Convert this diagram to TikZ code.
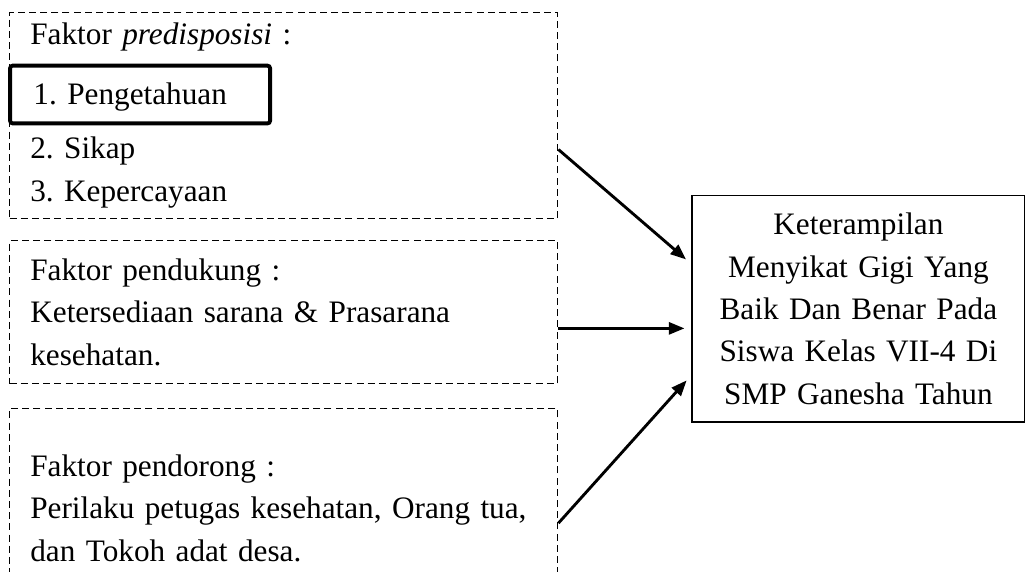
\documentclass[tikz,border=0pt]{standalone}
\usepackage{fontspec}
\setmainfont{Liberation Serif}
\frenchspacing
\usetikzlibrary{arrows.meta, positioning, calc}
\tikzset{
    faktor/.style={rectangle, draw=black, line width=0.5pt, dash pattern=on 2.7pt off 1.6pt, anchor=north west, minimum width=7.40cm, text width=6.84cm, inner xsep=8pt, align=left, font=\fontsize{12}{16.4}\selectfont},
    hasil/.style={rectangle, draw=black, line width=0.6pt, anchor=north west, minimum width=4.50cm, minimum height=3.06cm, text width=4.2cm, align=center, font=\fontsize{12}{16.3}\selectfont},
    sorot/.style={rectangle, draw=black, line width=1.5pt, rounded corners=1pt, anchor=north west, minimum width=3.51cm, minimum height=0.78cm},
    panah/.style={-{Triangle[length=6pt, width=4.6pt]}, line width=1.1pt, shorten >=2.5pt}
}

\begin{document}
\begin{tikzpicture}
\useasboundingbox (0,0) rectangle (13.84,-7.71);
\clip (0,0) rectangle (13.84,-7.71);

% Nodes
\node[faktor, minimum height=2.78cm] (predisposisi) at (0.12,-0.16) {Faktor \textit{predisposisi} :\\[6.5pt] \hspace*{1.2pt}1. Pengetahuan\\[4.6pt] 2. Sikap\\ 3. Kepercayaan};
\node[sorot] (pengetahuan) at (0.11,-0.86) {};

\node[faktor, minimum height=1.93cm] (pendukung) at (0.12,-3.24) {Faktor pendukung :\\ Ketersediaan sarana \& Prasarana\\ kesehatan.};

\node[faktor, minimum height=2.69cm] (pendorong) at (0.12,-5.51) {Faktor pendorong :\\ Perilaku petugas kesehatan, Orang tua,\\ dan Tokoh adat desa.};

\node[hasil] (sasaran) at (9.33,-2.63) {Keterampilan\\ Menyikat Gigi Yang\\ Baik Dan Benar Pada\\ Siswa Kelas VII-4 Di\\ SMP Ganesha Tahun};

% Arrows to the result
\draw[panah] ([yshift=-0.46cm]predisposisi.east) -- ([yshift=0.61cm]sasaran.west);
\draw[panah] ([yshift=-0.22cm]pendukung.east) -- ([yshift=-0.22cm]pendukung.east -| sasaran.west);
\draw[panah] ([yshift=-0.20cm]pendorong.east) -- ([yshift=-0.90cm]sasaran.west);
\end{tikzpicture}
\end{document}
